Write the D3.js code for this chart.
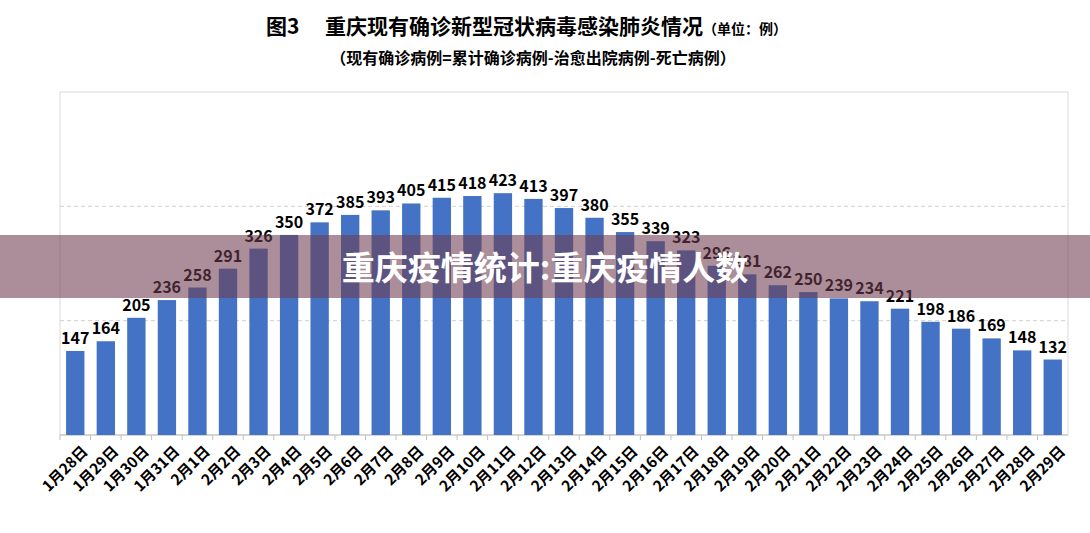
<!DOCTYPE html><html><head><meta charset="utf-8"><script src="https://cdn.jsdelivr.net/npm/d3@7"></script>
<style>body{margin:0;background:#fff}svg{display:block;font-family:"Noto Sans CJK SC",sans-serif}</style></head><body><svg id="c" width="1090" height="533"></svg>
<script>
const categories=["1月28日","1月29日","1月30日","1月31日","2月1日","2月2日","2月3日","2月4日","2月5日","2月6日","2月7日","2月8日","2月9日","2月10日","2月11日","2月12日","2月13日","2月14日","2月15日","2月16日","2月17日","2月18日","2月19日","2月20日","2月21日","2月22日","2月23日","2月24日","2月25日","2月26日","2月27日","2月28日","2月29日"];
const values=[147,164,205,236,258,291,326,350,372,385,393,405,415,418,423,413,397,380,355,339,323,296,281,262,250,239,234,221,198,186,169,148,132];
const gridTicks=[200,400];
const svg=d3.select("#c");
const L=60,R=1068,T=92,B=435;
const x=d3.scaleBand().domain(categories).range([L,R]).paddingInner(0.4).paddingOuter(0.2);
const y=d3.scaleLinear().domain([0,600]).range([B,T]);
svg.append("rect").attr("x",L).attr("y",T).attr("width",R-L).attr("height",B-T).attr("fill","none").attr("stroke","#d9d9d9");
svg.selectAll(".g").data(gridTicks).join("line").attr("x1",L).attr("x2",R).attr("y1",d=>y(d)).attr("y2",d=>y(d)).attr("stroke","#d0d0d0").attr("stroke-dasharray","4,3");
svg.append("line").attr("x1",L).attr("x2",R).attr("y1",B).attr("y2",B).attr("stroke","#bfbfbf");
svg.selectAll(".b").data(values).join("rect").attr("x",(d,i)=>x(categories[i])).attr("width",x.bandwidth()).attr("y",d=>y(d)).attr("height",d=>B-y(d)).attr("fill","#4472c4");
svg.selectAll(".l").data(values).join("text").attr("x",(d,i)=>x(categories[i])+x.bandwidth()/2).attr("y",d=>y(d)-7).attr("text-anchor","middle").attr("font-size",16).attr("font-weight","bold").text(d=>d);
svg.selectAll(".t").data(categories).join("text").attr("transform",d=>`translate(${x(d)+x.bandwidth()/2+6},${B+10}) rotate(-45)`).attr("text-anchor","end").attr("dy","0.7em").attr("font-size",15).attr("font-weight","bold").text(d=>d);
svg.selectAll(".tk").data(categories).join("line").attr("x1",d=>x(d)-x.step()*0.2).attr("x2",d=>x(d)-x.step()*0.2).attr("y1",B).attr("y2",B+5).attr("stroke","#bfbfbf");
const t=svg.append("text").attr("x",266).attr("y",34).attr("font-size",21).attr("font-weight","bold");
t.append("tspan").text("图3");t.append("tspan").attr("x",325).text("重庆现有确诊新型冠状病毒感染肺炎情况");
t.append("tspan").attr("font-size",14).text("（单位：例）");
svg.append("text").attr("x",533).attr("y",64).attr("text-anchor","middle").attr("font-size",16).attr("font-weight","bold").text("（现有确诊病例=累计确诊病例-治愈出院病例-死亡病例）");
svg.append("rect").attr("x",0).attr("y",235).attr("width",1090).attr("height",63).attr("fill","rgba(110,60,80,0.58)");
svg.append("text").attr("x",545).attr("y",280).attr("text-anchor","middle").attr("font-size",33).attr("font-weight","bold").attr("fill","#fff").text("重庆疫情统计:重庆疫情人数");
</script></body></html>
